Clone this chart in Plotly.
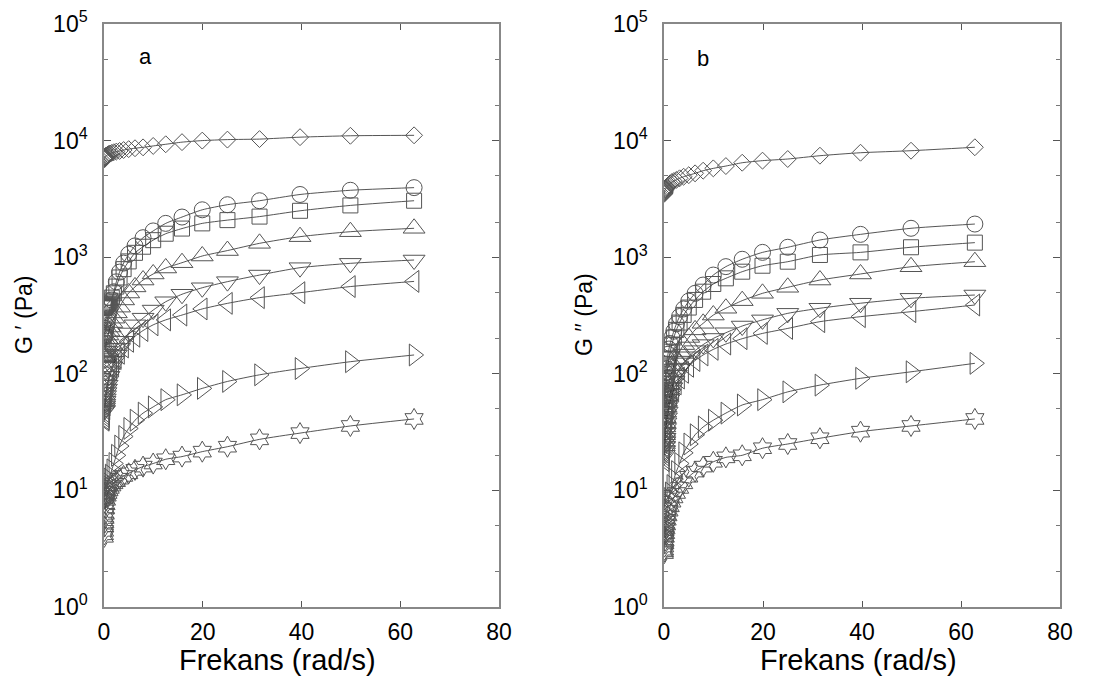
import plotly.graph_objects as go

# Angular frequency (rad/s), 10 points per decade
freq = [0.0628, 0.0791, 0.0996, 0.125, 0.158, 0.199, 0.250, 0.315, 0.397, 0.500,
        0.628, 0.791, 0.996, 1.25, 1.58, 1.99, 2.50, 3.15, 3.97, 5.00,
        6.28, 7.91, 9.96, 12.5, 15.8, 19.9, 25.0, 31.5, 39.7, 49.9, 62.8]

# Storage modulus G' (Pa)
gp_diamond = [6900, 7000, 7050, 7100, 7150, 7200, 7250, 7300, 7400, 7450,
              7500, 7600, 7700, 7750, 7850, 7950, 8050, 8150, 8300, 8450,
              8600, 8750, 9000, 9300, 9700, 10000, 10200, 10300, 10700, 11000, 11100]
gp_circle = [205, 207, 210, 213, 217, 222, 228, 235, 245, 258,
             275, 300, 330, 375, 430, 505, 615, 745, 890, 1060,
             1250, 1470, 1680, 1950, 2210, 2550, 2820, 3050, 3450, 3750, 3950]
gp_square = [365, 366, 368, 370, 372, 375, 378, 380, 385, 390,
             395, 400, 410, 425, 450, 490, 560, 670, 790, 920,
             1090, 1230, 1400, 1590, 1760, 1950, 2080, 2230, 2500, 2780, 3050]
gp_tri_up = [137, 140, 143, 147, 152, 157, 163, 170, 178, 188,
             200, 215, 232, 252, 275, 300, 333, 373, 430, 493,
             556, 637, 718, 808, 897, 1024, 1140, 1315, 1500, 1655, 1770]
gp_tri_down = [48, 49, 51, 53, 55, 58, 61, 65, 69, 74,
               80, 87, 95, 104, 115, 128, 145, 165, 190, 224,
               263, 300, 352, 415, 481, 547, 617, 703, 813, 886, 946]
gp_tri_left = [40, 41, 43, 45, 47, 50, 54, 58, 62, 67,
               73, 80, 88, 97, 108, 120, 135, 150, 170, 190,
               210, 235, 263, 290, 319, 360, 402, 450, 496, 560, 620]
gp_tri_right = [8.0, 8.1, 8.3, 8.5, 8.7, 9.0, 9.3, 9.6, 10.0, 10.5,
                11.0, 11.5, 12.5, 13.5, 15, 17, 20, 24, 29, 34,
                40, 46, 52, 60, 66, 75, 86, 98, 111, 127, 145]
gp_star = [4.0, 4.2, 4.5, 4.9, 5.3, 5.8, 6.3, 7.0, 7.6, 8.3,
           9.0, 9.5, 10.0, 10.5, 11.0, 11.5, 12.0, 12.6, 13.3, 14.0,
           15.0, 16.0, 17.0, 18.5, 19.5, 21.5, 23.7, 27.4, 31.0, 35.7, 41.0]

# Loss modulus G'' (Pa)
gpp_diamond = [3500, 3550, 3600, 3650, 3700, 3750, 3800, 3850, 3900, 3950,
               4000, 4100, 4200, 4300, 4400, 4500, 4600, 4750, 4900, 5050,
               5240, 5520, 5780, 6050, 6460, 6730, 6950, 7420, 7870, 8190, 8770]
gpp_circle = [63, 67, 71, 76, 81, 87, 94, 102, 111, 121,
              133, 147, 163, 182, 205, 232, 268, 310, 360, 420,
              490, 577, 703, 830, 960, 1100, 1217, 1405, 1570, 1770, 1925]
gpp_square = [43, 45, 48, 51, 55, 60, 66, 73, 82, 92,
              104, 118, 135, 155, 178, 205, 238, 275, 320, 370,
              430, 506, 589, 659, 751, 845, 915, 1045, 1100, 1217, 1333]
gpp_tri_up = [26, 28, 30, 32, 35, 38, 42, 47, 52, 58,
              65, 73, 82, 92, 104, 118, 135, 155, 178, 205,
              238, 271, 319, 365, 424, 490, 552, 637, 718, 828, 915]
gpp_tri_down = [20, 21, 22, 24, 26, 28, 31, 34, 38, 42,
                47, 53, 60, 67, 76, 86, 97, 110, 124, 140,
                158, 178, 201, 225, 257, 290, 330, 365, 403, 444, 474]
gpp_tri_left = [18, 19, 20, 21, 23, 25, 27, 30, 33, 37,
                41, 46, 52, 58, 65, 73, 82, 92, 103, 116,
                130, 145, 162, 180, 200, 222, 245, 280, 309, 341, 389]
gpp_tri_right = [4.0, 4.1, 4.2, 4.4, 4.6, 4.8, 5.1, 5.4, 5.8, 6.3,
                 6.9, 7.6, 8.5, 9.5, 11.0, 12.5, 14.5, 17, 21, 25,
                 30, 35, 40, 46, 54, 60, 70, 80, 91.5, 104, 123]
gpp_star = [2.9, 3.0, 3.1, 3.3, 3.5, 3.7, 4.0, 4.3, 4.7, 5.1,
            5.6, 6.1, 6.7, 7.3, 8.0, 8.7, 9.5, 10.5, 11.5, 13.1,
            14.5, 16.0, 17.6, 19.2, 20.0, 23.0, 25.0, 28.0, 31.9, 35.7, 41.0]

symbols = ["diamond-open", "circle-open", "square-open", "triangle-up-open",
           "triangle-down-open", "triangle-left-open", "triangle-right-open",
           "hexagram-open"]
sizes = [13, 16, 15, 19, 19, 19, 19, 16]

panel_a = [gp_diamond, gp_circle, gp_square, gp_tri_up, gp_tri_down,
           gp_tri_left, gp_tri_right, gp_star]
panel_b = [gpp_diamond, gpp_circle, gpp_square, gpp_tri_up, gpp_tri_down,
           gpp_tri_left, gpp_tri_right, gpp_star]

y_tick_vals = [1, 10, 100, 1000, 10000, 100000]
y_tick_text = ["10<sup>0</sup>", "10<sup>1</sup>", "10<sup>2</sup>",
               "10<sup>3</sup>", "10<sup>4</sup>", "10<sup>5</sup>"]
x_tick_vals = [0, 20, 40, 60, 80]

FONT = "Liberation Sans, Arial, sans-serif"
W, H = 1118, 681

fig = go.Figure()

for series_set, xa, ya in [(panel_a, "x", "y"), (panel_b, "x2", "y2")]:
    for vals, sym, sz in zip(series_set, symbols, sizes):
        fig.add_trace(go.Scatter(
            x=freq, y=vals, xaxis=xa, yaxis=ya,
            mode="lines+markers",
            line=dict(color="#2a2a2a", width=0.8, shape="spline", smoothing=0.6),
            marker=dict(symbol=sym, size=sz, color="#555555",
                        line=dict(color="#555555", width=1)),
            showlegend=False, hoverinfo="x+y",
        ))

def px_x(p):
    return p / W

def px_y(p):
    return 1 - p / H

x_common = dict(
    range=[0, 80], tickvals=x_tick_vals, ticks="inside", ticklen=6,
    tickcolor="#555555", showline=True, linecolor="#888888", linewidth=1.5,
    mirror="allticks", showgrid=False, zeroline=False, automargin=False,
    ticklabelstandoff=4,
    tickfont=dict(family=FONT, size=23, color="black"),
)
y_common = dict(
    type="log", range=[0, 5], tickvals=y_tick_vals, ticktext=y_tick_text,
    ticks="inside", ticklen=7, tickcolor="#555555",
    showline=True, linecolor="#888888", linewidth=1.5, mirror="allticks",
    showgrid=False, zeroline=False, automargin=False,
    ticklabelstandoff=10,
    minor=dict(ticks="inside", ticklen=4, tickcolor="#777777", showgrid=False),
    tickfont=dict(family=FONT, size=23, color="black"),
)

fig.update_layout(
    width=W, height=H,
    margin=dict(l=0, r=0, t=0, b=0, autoexpand=False),
    paper_bgcolor="white", plot_bgcolor="white",
    font=dict(family=FONT, color="black"),
    xaxis=dict(domain=[px_x(104), px_x(499)], anchor="y", **x_common),
    yaxis=dict(domain=[px_y(607), px_y(24)], anchor="x", **y_common),
    xaxis2=dict(domain=[px_x(664), px_x(1060)], anchor="y2", **x_common),
    yaxis2=dict(domain=[px_y(607), px_y(24)], anchor="x2", **y_common),
)

centered = dict(showarrow=False, xanchor="center", yanchor="middle")
annotations = [
    dict(text="a", x=8.5, y=4.72, xref="x", yref="y",
         font=dict(family=FONT, size=22), **centered),
    dict(text="b", x=7.9, y=4.70, xref="x2", yref="y2",
         font=dict(family=FONT, size=22), **centered),
    dict(text="Frekans (rad/s)", x=px_x(277), y=px_y(660), xref="paper", yref="paper",
         font=dict(family=FONT, size=29), **centered),
    dict(text="Frekans (rad/s)", x=px_x(858), y=px_y(660), xref="paper", yref="paper",
         font=dict(family=FONT, size=29), **centered),
    dict(text="G ′ (Pa)", x=px_x(24), y=px_y(315), xref="paper", yref="paper",
         textangle=-90, font=dict(family=FONT, size=23), **centered),
    dict(text="G ′′ (Pa)", x=px_x(584), y=px_y(315), xref="paper", yref="paper",
         textangle=-90, font=dict(family=FONT, size=23), **centered),
]
fig.update_layout(annotations=annotations)

fig.write_html("out.html")
